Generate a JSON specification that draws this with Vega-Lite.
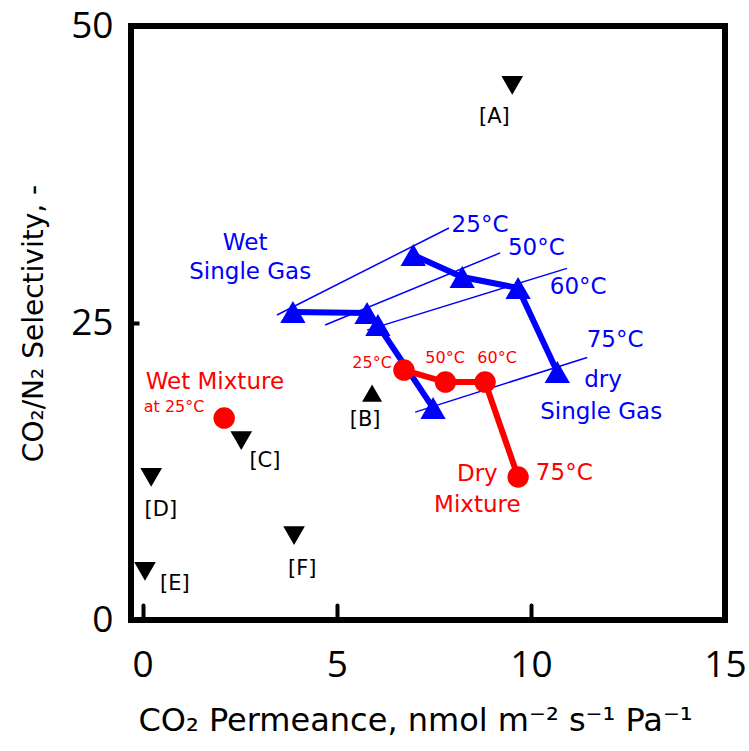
{
  "$schema": "https://vega.github.io/schema/vega-lite/v6.json",
  "width": 594,
  "height": 594,
  "autosize": {"type": "none"},
  "padding": {"left": 131, "top": 26, "right": 24, "bottom": 131},
  "background": "white",
  "config": {
    "view": {"stroke": "black", "strokeWidth": 6},
    "axis": {"grid": false, "domain": false}
  },
  "datasets": {
    "isotherms": [
      {"temp": 25, "x": 3.46, "y": 25.67, "x2": 7.89, "y2": 33.0},
      {"temp": 50, "x": 4.70, "y": 24.83, "x2": 9.21, "y2": 30.9},
      {"temp": 60, "x": 5.78, "y": 24.4, "x2": 10.93, "y2": 29.6},
      {"temp": 75, "x": 7.02, "y": 17.5, "x2": 11.45, "y2": 22.1}
    ],
    "singleGas": [
      {"cond": "Wet", "temp": 25, "x": 3.87, "y": 25.93},
      {"cond": "Wet", "temp": 50, "x": 5.78, "y": 25.84},
      {"cond": "Wet", "temp": 60, "x": 6.06, "y": 24.83},
      {"cond": "Wet", "temp": 75, "x": 7.48, "y": 17.85},
      {"cond": "Dry", "temp": 25, "x": 6.97, "y": 30.72},
      {"cond": "Dry", "temp": 50, "x": 8.23, "y": 28.87},
      {"cond": "Dry", "temp": 60, "x": 9.67, "y": 27.95},
      {"cond": "Dry", "temp": 75, "x": 10.68, "y": 20.88}
    ],
    "mixture": [
      {"cond": "Dry", "temp": 25, "x": 6.73, "y": 21.04},
      {"cond": "Dry", "temp": 50, "x": 7.80, "y": 20.03},
      {"cond": "Dry", "temp": 60, "x": 8.82, "y": 20.03},
      {"cond": "Dry", "temp": 75, "x": 9.67, "y": 12.04},
      {"cond": "Wet", "temp": 25, "x": 2.10, "y": 17.0}
    ],
    "literature": [
      {"ref": "[A]", "x": 9.52, "y": 45.0},
      {"ref": "[B]", "x": 5.91, "y": 19.1},
      {"ref": "[C]", "x": 2.54, "y": 15.1},
      {"ref": "[D]", "x": 0.22, "y": 12.0},
      {"ref": "[E]", "x": 0.06, "y": 4.1},
      {"ref": "[F]", "x": 3.90, "y": 7.1}
    ],
    "labels": [
      {"group": "blue", "text": "Wet", "x": 2.64, "y": 31.73},
      {"group": "blue", "text": "Single Gas", "x": 2.77, "y": 29.29},
      {"group": "blue", "text": "25°C", "x": 8.69, "y": 33.25},
      {"group": "blue", "text": "50°C", "x": 10.14, "y": 31.31},
      {"group": "blue", "text": "60°C", "x": 11.22, "y": 28.03},
      {"group": "blue", "text": "75°C", "x": 12.17, "y": 23.57},
      {"group": "blue", "text": "dry", "x": 11.86, "y": 20.2},
      {"group": "blue", "text": "Single Gas", "x": 11.81, "y": 17.51},
      {"group": "red", "text": "Wet Mixture", "x": 1.86, "y": 20.03},
      {"group": "red", "text": "75°C", "x": 10.86, "y": 12.37},
      {"group": "red", "text": "Dry", "x": 8.62, "y": 12.29},
      {"group": "red", "text": "Mixture", "x": 8.62, "y": 9.68},
      {"group": "redSmall", "text": "at 25°C", "x": 0.81, "y": 17.93},
      {"group": "redSmall", "text": "25°C", "x": 5.91, "y": 21.63},
      {"group": "redSmall", "text": "50°C", "x": 7.79, "y": 22.05},
      {"group": "redSmall", "text": "60°C", "x": 9.13, "y": 22.05},
      {"group": "black", "text": "[A]", "x": 9.06, "y": 42.34},
      {"group": "black", "text": "[B]", "x": 5.73, "y": 16.84},
      {"group": "black", "text": "[C]", "x": 3.15, "y": 13.38},
      {"group": "black", "text": "[D]", "x": 0.47, "y": 9.26},
      {"group": "black", "text": "[E]", "x": 0.83, "y": 3.03},
      {"group": "black", "text": "[F]", "x": 4.11, "y": 4.29}
    ]
  },
  "encoding": {
    "x": {
      "field": "x",
      "type": "quantitative",
      "scale": {"domain": [-0.3, 15], "nice": false, "zero": false},
      "axis": {
        "values": [0, 5, 10, 15],
        "tickSize": -15,
        "tickWidth": 4,
        "tickColor": "black",
        "tickCap": "round",
        "labelFont": "Open Sans",
        "labelFontSize": 37,
        "labelColor": "black",
        "labelPadding": 42,
        "labelFlush": false,
        "labelBaseline": "top",
        "title": "CO₂ Permeance, nmol m⁻² s⁻¹ Pa⁻¹",
        "titleFont": "DejaVu Sans",
        "titleFontSize": 32,
        "titleFontWeight": "normal",
        "titleColor": "black",
        "titleX": 284,
        "titleY": 100,
        "titleAlign": "center",
        "titleBaseline": "middle"
      }
    },
    "y": {
      "field": "y",
      "type": "quantitative",
      "scale": {"domain": [0, 50], "nice": false, "zero": false},
      "axis": {
        "values": [0, 25, 50],
        "tickSize": -8,
        "tickWidth": 4,
        "tickColor": "black",
        "labelFont": "Open Sans",
        "labelFontSize": 37,
        "labelColor": "black",
        "labelPadding": 26,
        "labelFlush": false,
        "title": "CO₂/N₂  Selectivity, -",
        "titleFont": "DejaVu Sans",
        "titleFontSize": 28,
        "titleFontWeight": "normal",
        "titleColor": "black",
        "titleAngle": 270,
        "titleX": -97,
        "titleY": 297,
        "titleAlign": "center",
        "titleBaseline": "middle"
      }
    }
  },
  "layer": [
    {
      "data": {"name": "isotherms"},
      "mark": {"type": "rule", "color": "#0000FF", "strokeWidth": 1.5},
      "encoding": {"x2": {"field": "x2"}, "y2": {"field": "y2"}}
    },
    {
      "data": {"name": "singleGas"},
      "mark": {"type": "line", "color": "#0000FF", "strokeWidth": 6},
      "encoding": {"detail": {"field": "cond"}, "order": {"field": "temp", "type": "quantitative"}}
    },
    {
      "data": {"name": "mixture"},
      "transform": [{"filter": "datum.cond === 'Dry'"}],
      "mark": {"type": "line", "color": "#FF0000", "strokeWidth": 6},
      "encoding": {"order": {"field": "temp", "type": "quantitative"}}
    },
    {
      "data": {"name": "singleGas"},
      "mark": {"type": "point", "shape": "triangle-up", "filled": true, "size": 640, "color": "#0000FF", "opacity": 1}
    },
    {
      "data": {"name": "mixture"},
      "mark": {"type": "circle", "size": 460, "color": "#FF0000", "opacity": 1}
    },
    {
      "data": {"name": "literature"},
      "transform": [{"filter": "datum.ref !== '[B]'"}],
      "mark": {"type": "point", "shape": "triangle-down", "filled": true, "size": 470, "color": "black", "opacity": 1}
    },
    {
      "data": {"name": "literature"},
      "transform": [{"filter": "datum.ref === '[B]'"}],
      "mark": {"type": "point", "shape": "triangle-up", "filled": true, "size": 400, "color": "black", "opacity": 1}
    },
    {
      "data": {"name": "labels"},
      "transform": [{"filter": "datum.group === 'blue'"}],
      "mark": {"type": "text", "font": "DejaVu Sans", "fontSize": 23, "color": "#0000FF", "align": "center", "baseline": "middle"},
      "encoding": {"text": {"field": "text"}}
    },
    {
      "data": {"name": "labels"},
      "transform": [{"filter": "datum.group === 'red'"}],
      "mark": {"type": "text", "font": "DejaVu Sans", "fontSize": 23, "color": "#FF0000", "align": "center", "baseline": "middle"},
      "encoding": {"text": {"field": "text"}}
    },
    {
      "data": {"name": "labels"},
      "transform": [{"filter": "datum.group === 'redSmall'"}],
      "mark": {"type": "text", "font": "DejaVu Sans", "fontSize": 16, "color": "#FF0000", "align": "center", "baseline": "middle"},
      "encoding": {"text": {"field": "text"}}
    },
    {
      "data": {"name": "labels"},
      "transform": [{"filter": "datum.group === 'black'"}],
      "mark": {"type": "text", "font": "DejaVu Sans", "fontSize": 21, "color": "black", "align": "center", "baseline": "middle"},
      "encoding": {"text": {"field": "text"}}
    }
  ]
}
